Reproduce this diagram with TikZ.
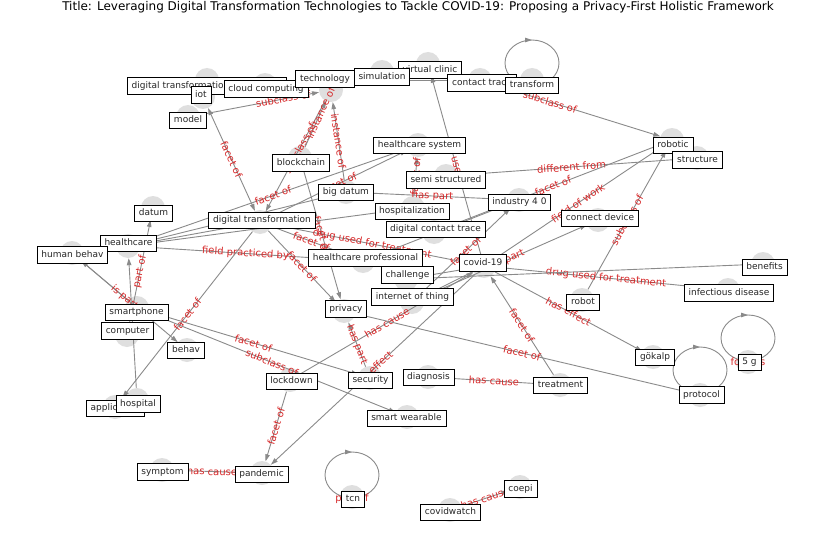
\documentclass[tikz,border=0pt]{standalone}
\usepackage{fontspec}
\setmainfont{DejaVu Sans}
\usetikzlibrary{arrows.meta,calc}
\definecolor{egrey}{HTML}{8A8A8A}
\definecolor{vgrey}{HTML}{DFDFDF}
\definecolor{ered}{HTML}{D62728}
\begin{document}
\begin{tikzpicture}[x=1pt,y=-1pt,
 vtx/.style={circle,fill=vgrey,draw=none,minimum size=24pt,inner sep=0pt},
 lbl/.style={draw=black,line width=0.7pt,fill=white,text=black!85,font=\fontsize{9}{10}\selectfont,inner xsep=4.3pt,inner ysep=0pt,text height=6.8pt,text depth=2.2pt,minimum height=16.5pt},
 edge/.style={draw=egrey,line width=0.9pt,-{Triangle[length=7pt,width=4.5pt]}},
 lp/.style={draw=egrey,line width=0.9pt},
 elab/.style={text=ered,font=\fontsize{10}{11}\selectfont,sloped,inner sep=0pt,pos=0.5},
]
\useasboundingbox (0,0) rectangle (837,559);
\node[font=\fontsize{12}{14}\selectfont] (title) at (418,7) {Title: Leveraging Digital Transformation Technologies to Tackle COVID-19: Proposing a Privacy-First Holistic Framework};

% vertices (grey circles)
\node[vtx] (dtt) at (207,80) {};
\node[vtx] (iot) at (203,97) {};
\node[vtx] (cloud) at (265,85) {};
\node[vtx] (tech) at (331,90) {};
\node[vtx] (sim) at (382,72) {};
\node[vtx] (vclin) at (428,64) {};
\node[vtx] (ctrace) at (480,80) {};
\node[vtx] (transf) at (532,80) {};
\node[vtx] (model) at (188,117) {};
\node[vtx] (hsys) at (418,145) {};
\node[vtx] (robotic) at (672,140) {};
\node[vtx] (struct) at (697,158) {};
\node[vtx] (block) at (300,158) {};
\node[vtx] (semi) at (446,176) {};
\node[vtx] (bigd) at (346,192) {};
\node[vtx] (ind) at (519,200) {};
\node[vtx] (hosp) at (413,208) {};
\node[vtx] (datum) at (153,208) {};
\node[vtx] (cdev) at (598,220) {};
\node[vtx] (dt) at (260,222) {};
\node[vtx] (dct) at (434,232) {};
\node[vtx] (hc) at (128,246) {};
\node[vtx] (hbeh) at (72,253) {};
\node[vtx] (hcp) at (363,261) {};
\node[vtx] (covid) at (484,266) {};
\node[vtx] (benef) at (763,264) {};
\node[vtx] (chall) at (406,279) {};
\node[vtx] (infd) at (728,290) {};
\node[vtx] (iothing) at (412,302) {};
\node[vtx] (robot) at (582,300) {};
\node[vtx] (smart) at (137,308) {};
\node[vtx] (priv) at (344,311) {};
\node[vtx] (comp) at (127,335) {};
\node[vtx] (behav) at (187,350) {};
\node[vtx] (fiveg) at (748,362) {};
\node[vtx] (gok) at (653,357) {};
\node[vtx] (lock) at (290,380) {};
\node[vtx] (secur) at (370,378) {};
\node[vtx] (diag) at (428,377) {};
\node[vtx] (treat) at (560,385) {};
\node[vtx] (proto) at (700,395) {};
\node[vtx] (hospital) at (137,400) {};
\node[vtx] (appl) at (115,407) {};
\node[vtx] (smartw) at (407,417) {};
\node[vtx] (sympt) at (162,470) {};
\node[vtx] (pand) at (262,473) {};
\node[vtx] (tcn) at (352,497) {};
\node[vtx] (coepi) at (520,487) {};
\node[vtx] (cwatch) at (450,510) {};

% edges
\draw[edge,{Triangle[length=7pt,width=4.5pt]}-{Triangle[length=7pt,width=4.5pt]}] (dt) -- (iot) node[elab]{facet of};
\draw[edge] (model) -- (tech) node[elab,pos=0.7]{subclass of};
\draw[edge] (dtt) -- (ctrace) node[elab]{use};
\draw[edge] (tech) -- (dt) node[elab,pos=0.43]{subclass of};
\draw[edge] (block) -- (tech) node[elab,pos=0.74]{instance of};
\draw[edge] (bigd) -- (tech) node[elab]{instance of};
\draw[edge] (hc) -- (hsys) node[elab]{facet of};
\draw[edge] (dt) -- (hsys) node[elab]{facet of};
\draw[edge] (bigd) -- (ind) node[elab]{has part};
\draw[edge] (covid) -- (vclin) node[elab]{use};
\draw[edge] (hosp) -- (hsys) node[elab]{facet of};
\draw[edge] (semi) -- (struct) node[elab]{different from};
\draw[edge] (dct) -- (robotic) node[elab]{facet of};
\draw[edge] (covid) -- (robotic) node[elab]{field of work};
\draw[edge] (robot) -- (robotic) node[elab]{subclass of};
\draw[edge] (iothing) -- (cdev) node[elab]{has part};
\draw[edge] (dt) -- (covid) node[elab]{drug used for treatment};
\draw[edge] (dt) -- (hcp) node[elab]{facet of};
\draw[edge] (hc) -- (hcp) node[elab]{field practiced by};
\draw[edge] (dt) -- (priv) node[elab]{facet of};
\draw[edge] (block) -- (priv) node[elab]{facet of};
\draw[edge] (iothing) -- (ind) node[elab]{facet of};
\draw[edge] (lock) -- (covid) node[elab]{has cause};
\draw[edge] (secur) -- (priv) node[elab]{has part};
\draw[edge] (covid) -- (pand) node[elab]{has effect};
\draw[edge] (dt) -- (appl) node[elab]{facet of};
\draw[edge] (comp) -- (datum) node[elab]{part of};
\draw[edge] (smart) -- (hbeh);
\draw[edge] (hbeh) -- (behav) node[elab]{is part of};
\draw[edge] (smart) -- (secur) node[elab]{facet of};
\draw[edge] (smart) -- (smartw) node[elab]{subclass of};
\draw[edge] (lock) -- (pand) node[elab]{facet of};
\draw[edge] (sympt) -- (pand) node[elab]{has cause};
\draw[edge] (vclin) -- (robotic) node[elab]{subclass of};
\draw[edge] (diag) -- (treat) node[elab]{has cause};
\draw[edge] (treat) -- (covid) node[elab]{facet of};
\draw[edge] (priv) -- (proto) node[elab]{facet of};
\draw[edge] (covid) -- (gok) node[elab]{has effect};
\draw[edge] (covid) -- (infd) node[elab]{drug used for treatment};
\draw[edge] (chall) -- (benef);
\draw[edge] (covid) -- (chall);
\draw[edge] (covid) -- (iothing);
\draw[edge] (hc) -- (dt);
\draw[edge] (hc) -- (bigd);
\draw[edge] (hc) -- (hosp);
\draw[edge] (hcp) -- (ind);
\draw[edge] (hospital) -- (hc);
\draw[edge] (cwatch) -- (coepi) node[elab]{has cause};

% self loops
\draw[lp] ($(transf)+(0,-17)$) ellipse [x radius=27pt, y radius=23pt];
\draw[lp,-{Triangle[length=7pt,width=4.5pt]}] ($(transf)+(-6,-40)$) -- ($(transf)+(0,-40)$);
\draw[lp] ($(proto)+(0,-25)$) ellipse [x radius=27pt, y radius=23pt];
\draw[lp,-{Triangle[length=7pt,width=4.5pt]}] ($(proto)+(-6,-48)$) -- ($(proto)+(0,-48)$);
\draw[lp] ($(fiveg)+(0,-24)$) ellipse [x radius=27pt, y radius=23pt];
\draw[lp,-{Triangle[length=7pt,width=4.5pt]}] ($(fiveg)+(-6,-47)$) -- ($(fiveg)+(0,-47)$);
\draw[lp] ($(tcn)+(0,-22)$) ellipse [x radius=27pt, y radius=23pt];
\draw[lp,-{Triangle[length=7pt,width=4.5pt]}] ($(tcn)+(-6,-45)$) -- ($(tcn)+(0,-45)$);
\node[text=ered,font=\fontsize{10}{11}\selectfont,inner sep=0pt] (tcnlab) at ($(tcn)+(0,2)$) {part of};
\node[text=ered,font=\fontsize{10}{11}\selectfont,inner sep=0pt] (fivelab) at ($(fiveg)+(0,0)$) {follows};

% label boxes
\node[lbl] (dtt-l) at (207,86) {digital transformation technology};
\node[lbl] (iot-l) at (201,95) {iot};
\node[lbl] (cloud-l) at (266,89) {cloud computing};
\node[lbl] (tech-l) at (325,79) {technology};
\node[lbl] (vclin-l) at (430,70) {virtual clinic};
\node[lbl] (sim-l) at (382,77) {simulation};
\node[lbl] (ctrace-l) at (482,83) {contact trace};
\node[lbl] (transf-l) at (532,85.5) {transform};
\node[lbl] (model-l) at (188,120.5) {model};
\node[lbl] (hsys-l) at (419.5,145.5) {healthcare system};
\node[lbl] (robotic-l) at (673,145.5) {robotic};
\node[lbl] (struct-l) at (697.5,160) {structure};
\node[lbl] (block-l) at (301,163) {blockchain};
\node[lbl] (semi-l) at (446,180) {semi structured};
\node[lbl] (bigd-l) at (346,192.5) {big datum};
\node[lbl] (ind-l) at (519.5,202.5) {industry 4 0};
\node[lbl] (hosp-l) at (412,211.5) {hospitalization};
\node[lbl] (datum-l) at (153.5,213.5) {datum};
\node[lbl] (cdev-l) at (600,218.5) {connect device};
\node[lbl] (dt-l) at (262,220.5) {digital transformation};
\node[lbl] (dct-l) at (435.5,229.5) {digital contact trace};
\node[lbl] (hc-l) at (128.5,243.5) {healthcare};
\node[lbl] (hbeh-l) at (72.5,255) {human behav};
\node[lbl] (hcp-l) at (365.5,258) {healthcare professional};
\node[lbl] (covid-l) at (483,263) {covid-19};
\node[lbl] (benef-l) at (764.5,267.5) {benefits};
\node[lbl] (chall-l) at (407.5,275) {challenge};
\node[lbl] (infd-l) at (729,293) {infectious disease};
\node[lbl] (iothing-l) at (412.5,297) {internet of thing};
\node[lbl] (robot-l) at (583,302.5) {robot};
\node[lbl] (smart-l) at (136.5,312.5) {smartphone};
\node[lbl] (priv-l) at (346,309) {privacy};
\node[lbl] (comp-l) at (127.5,331) {computer};
\node[lbl] (behav-l) at (186,350.5) {behav};
\node[lbl] (fiveg-l) at (749.5,362.5) {5 g};
\node[lbl] (gok-l) at (655,357.5) {gökalp};
\node[lbl] (lock-l) at (291.5,381.5) {lockdown};
\node[lbl] (secur-l) at (370.5,380.5) {security};
\node[lbl] (diag-l) at (428.5,377.5) {diagnosis};
\node[lbl] (treat-l) at (560.5,385.5) {treatment};
\node[lbl] (proto-l) at (701.5,395) {protocol};
\node[lbl] (appl-l) at (115.5,408.5) {application};
\node[lbl] (hospital-l) at (138,404) {hospital};
\node[lbl] (smartw-l) at (406.5,418.5) {smart wearable};
\node[lbl] (sympt-l) at (162.5,472) {symptom};
\node[lbl] (pand-l) at (261.5,474.5) {pandemic};
\node[lbl] (tcn-l) at (353,499.5) {tcn};
\node[lbl] (coepi-l) at (520.5,489) {coepi};
\node[lbl] (cwatch-l) at (450.5,512.5) {covidwatch};
\end{tikzpicture}
\end{document}
